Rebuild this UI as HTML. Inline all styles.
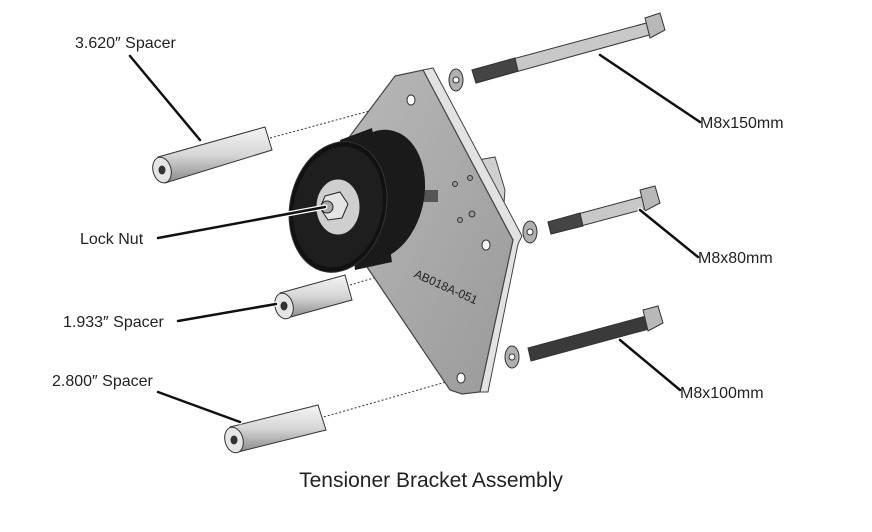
<!DOCTYPE html>
<html><head><meta charset="utf-8"><style>
html,body{margin:0;padding:0;background:#fff;}
svg{display:block}
text{font-family:"Liberation Sans",sans-serif;fill:#222;}
</style></head><body>
<svg width="872" height="532" viewBox="0 0 872 532" xmlns="http://www.w3.org/2000/svg">
<defs>
<linearGradient id="cyl" x1="0" y1="0" x2="0" y2="1">
<stop offset="0" stop-color="#f4f4f4"/><stop offset="0.5" stop-color="#d6d6d6"/><stop offset="1" stop-color="#8a8a8a"/>
</linearGradient>
<linearGradient id="plate" x1="0" y1="0" x2="1" y2="1">
<stop offset="0" stop-color="#b8b8b8"/><stop offset="1" stop-color="#9a9a9a"/>
</linearGradient>
</defs>

<g stroke="#333" stroke-width="1" stroke-dasharray="2,2" fill="none">
<line x1="270" y1="138" x2="410" y2="100"/>
<line x1="350" y1="285" x2="485" y2="245"/>
<line x1="320" y1="418" x2="460" y2="378"/>
</g>

<polygon points="478,160 495,157 505,190 500,255 480,250" fill="#cfcfcf" stroke="#444"/>
<!-- plate -->
<polygon points="423,70 433,68 522,236 518,244 488,392 480,392 513,240" fill="#e2e2e2" stroke="#444"/>
<polygon points="395,76 423,70 513,240 480,392 462,394 450,390 367,267 347,140" fill="url(#plate)" stroke="#444" stroke-width="1.2"/>
<g fill="#fff" stroke="#333">
<ellipse cx="411" cy="100" rx="4" ry="5"/>
<ellipse cx="486" cy="245" rx="4" ry="5"/>
<ellipse cx="461" cy="378" rx="4" ry="5"/>
<circle cx="455" cy="184" r="2.5" fill="#999"/><circle cx="472" cy="214" r="3" fill="#999"/><circle cx="460" cy="220" r="2.5" fill="#999"/><circle cx="470" cy="178" r="2.5" fill="#999"/>
</g>
<text x="410" y="288" font-size="12" transform="rotate(24 438 290)" fill="#444">AB018A-051</text>
<rect x="420" y="190" width="18" height="12" fill="#555"/>

<!-- pulley -->
<ellipse cx="378" cy="195" rx="46" ry="66" fill="#1a1a1a" transform="rotate(12 378 195)"/>
<polygon points="340,140 372,128 392,262 355,270" fill="#1a1a1a"/>
<ellipse cx="338" cy="207" rx="48" ry="66" fill="#111" stroke="#333" transform="rotate(12 338 207)"/>
<ellipse cx="338" cy="207" rx="44" ry="61" fill="#1e1e1e" transform="rotate(12 338 207)"/>
<ellipse cx="338" cy="207" rx="22" ry="28" fill="#cfcfcf" stroke="#222"/>
<polygon points="325,196 340,192 348,204 342,218 328,220 320,208" fill="#e4e4e4" stroke="#222"/>
<circle cx="327" cy="207" r="6" fill="#aaa" stroke="#222"/>

<g stroke="#333" stroke-width="1">
<polygon points="158,157 265,127 272,150 165,183" fill="url(#cyl)"/>
<ellipse cx="162" cy="170" rx="9" ry="13" fill="#e5e5e5" transform="rotate(-15 162 170)"/>
<ellipse cx="162" cy="170" rx="3" ry="4" fill="#333"/>
<polygon points="280,293 345,275 352,300 287,318" fill="url(#cyl)"/>
<ellipse cx="284" cy="306" rx="9" ry="13" fill="#e5e5e5" transform="rotate(-15 284 306)"/>
<ellipse cx="284" cy="306" rx="3" ry="4" fill="#333"/>
<polygon points="230,427 318,405 326,430 238,452" fill="url(#cyl)"/>
<ellipse cx="234" cy="440" rx="9" ry="13" fill="#e5e5e5" transform="rotate(-15 234 440)"/>
<ellipse cx="234" cy="440" rx="3" ry="4" fill="#333"/>
</g>

<g stroke="#333" stroke-width="1">
<polygon points="472,70 650,22 653,34 476,83" fill="#c8c8c8"/>
<polygon points="472,70 515,58 518,71 476,83" fill="#444"/>
<polygon points="645,18 660,13 665,30 650,38" fill="#b8b8b8"/>
<ellipse cx="456" cy="80" rx="7" ry="11" fill="#b0b0b0"/><circle cx="456" cy="80" r="3" fill="#fff"/>
<polygon points="548,222 645,196 648,208 551,234" fill="#c8c8c8"/>
<polygon points="548,222 580,213 583,226 551,234" fill="#444"/>
<polygon points="640,190 655,186 660,203 645,211" fill="#b8b8b8"/>
<ellipse cx="530" cy="232" rx="7" ry="11" fill="#b0b0b0"/><circle cx="530" cy="232" r="3" fill="#fff"/>
<polygon points="528,348 646,316 649,329 531,361" fill="#3a3a3a"/>
<polygon points="643,310 658,306 663,323 648,331" fill="#b8b8b8"/>
<ellipse cx="512" cy="357" rx="7" ry="11" fill="#b0b0b0"/><circle cx="512" cy="357" r="3" fill="#fff"/>
</g>

<g stroke-linecap="round">
<g stroke="#fff" stroke-width="5">
<line x1="130" y1="56" x2="200" y2="140"/><line x1="158" y1="238" x2="325" y2="207"/>
<line x1="178" y1="321" x2="276" y2="304"/><line x1="158" y1="392" x2="240" y2="422"/>
<line x1="600" y1="55" x2="700" y2="122"/><line x1="640" y1="210" x2="698" y2="257"/>
<line x1="620" y1="340" x2="680" y2="390"/>
</g>
<g stroke="#111" stroke-width="2.5">
<line x1="130" y1="56" x2="200" y2="140"/><line x1="158" y1="238" x2="325" y2="207"/>
<line x1="178" y1="321" x2="276" y2="304"/><line x1="158" y1="392" x2="240" y2="422"/>
<line x1="600" y1="55" x2="700" y2="122"/><line x1="640" y1="210" x2="698" y2="257"/>
<line x1="620" y1="340" x2="680" y2="390"/>
</g>
</g>

<g font-size="16">
<text x="75" y="48">3.620″ Spacer</text>
<text x="80" y="244">Lock Nut</text>
<text x="63" y="327">1.933″ Spacer</text>
<text x="52" y="386">2.800″ Spacer</text>
<text x="700" y="128">M8x150mm</text>
<text x="698" y="263">M8x80mm</text>
<text x="680" y="398">M8x100mm</text>
</g>
<text x="431" y="487" font-size="21" text-anchor="middle">Tensioner Bracket Assembly</text>
</svg>
</body></html>
